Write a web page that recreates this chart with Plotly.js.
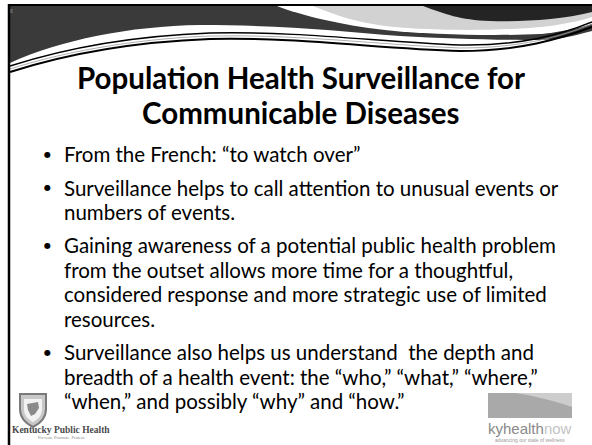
<!DOCTYPE html>
<html>
<head>
<meta charset="utf-8">
<script src="https://cdn.plot.ly/plotly-3.0.1.min.js"></script>
<style>
  html, body { margin: 0; padding: 0; background: #ffffff; }
  #slide { width: 592px; height: 445px; }
</style>
</head>
<body>
<div id="slide"></div>
<script>
// ---- content ----
const slideNumber = "8";
const titleLines = ["Population Health Surveillance for", "Communicable Diseases"];
const bullet1 = ["From the French: \u201cto watch over\u201d"];
const bullet2 = ["Surveillance helps to call attention to unusual events or", "numbers of events."];
const bullet3 = ["Gaining awareness of a potential public health problem",
                 "from the outset allows more time for a thoughtful,",
                 "considered response and more strategic use of limited",
                 "resources."];
const bullet4 = ["Surveillance also helps us understand\u00a0 the depth and",
                 "breadth of a health event: the \u201cwho,\u201d \u201cwhat,\u201d \u201cwhere,\u201d",
                 "\u201cwhen,\u201d and possibly \u201cwhy\u201d and \u201chow.\u201d"];
const bullets = [bullet1, bullet2, bullet3, bullet4];
const logoLeftName = "Kentucky Public Health";
const logoLeftTag = "Prevent. Promote. Protect.";
const logoRightParts = ["kyhealth", "now"];
const logoRightTag = "advancing our state of wellness";

// ---- layout constants ----
const W = 592, H = 445;
const bodyFont = "Lato, 'Noto Sans', sans-serif";
const titleY0 = 77, titleStep = 35, titleX = 301;
const bodyY0 = 154, lineStep = 24.4, paraStep = 33.5;
const bulletX = 47, textX = 62;

const annotations = [];
function txt(x, y, text, opts) {
  annotations.push(Object.assign({
    x: x, y: y, xref: 'x', yref: 'y', text: text, showarrow: false,
    xanchor: 'left', yanchor: 'middle',
    font: { family: bodyFont, size: 20.5, color: '#000000' }
  }, opts || {}));
}

titleLines.forEach((t, i) => {
  txt(titleX, titleY0 + i * titleStep, '<b>' + t + '</b>', {
    xanchor: 'center', font: { family: bodyFont, size: 29.5, color: '#000000' }
  });
});

let y = bodyY0;
bullets.forEach((lines, bi) => {
  if (bi > 0) y += paraStep;
  txt(bulletX, y, '\u25CF', { xanchor: 'center', font: { family: "'DejaVu Sans', sans-serif", size: 8, color: '#000' } });
  lines.forEach((ln, li) => {
    if (li > 0) y += lineStep;
    txt(textX, y, ln);
  });
});

txt(11, 11, slideNumber, { xanchor: 'center', font: { family: bodyFont, size: 5, color: '#888' } });
txt(61, 430, '<b>' + logoLeftName + '</b>', { xanchor: 'center', font: { family: "'Liberation Serif', serif", size: 9.5, color: '#4a4a4a' } });
txt(61, 437.5, logoLeftTag, { xanchor: 'center', font: { family: "'Liberation Serif', serif", size: 4.5, color: '#888' } });
txt(530, 428, logoRightParts[0] + '<span style="color:#c4c4c4">' + logoRightParts[1] + '</span>',
    { xanchor: 'center', font: { family: "'Liberation Sans', Arial, sans-serif", size: 15, color: '#8a8a8a' } });
txt(530, 440, logoRightTag, { xanchor: 'center', font: { family: "'Liberation Sans', sans-serif", size: 5, color: '#9a9a9a' } });

// ---- header decoration as an SVG background image (pixel coordinates) ----
const headerSvg =
  '<svg xmlns="http://www.w3.org/2000/svg" width="592" height="445" viewBox="0 0 592 445">' +
  '<path d="M 10 6 L 592 6 L 592 31 C 570 37 555 40 540 40 C 500 40 450 39 400 36 C 340 31 280 25 200 25 C 130 26 60 40 10 63 Z" fill="#3a3a3a"/>' +
  '<path d="M 277 6 L 592 6 L 592 24 C 580 28 560 32 540 34 C 500 36 430 35 385 30 C 340 25 300 15 277 6 Z" fill="#ffffff"/>' +
  '<path d="M 313 6 L 592 6 L 592 17 C 580 21 560 25 540 27 C 500 31 430 31 385 26 C 355 22 335 15 313 6 Z" fill="#d2d2d2"/>' +
  '<path d="M 423 6 L 592 6 L 592 12 C 560 20 520 22 490 21 C 460 20 445 14 423 6 Z" fill="#242424"/>' +
  '<path d="M 10 66 C 60 50 130 36 210 33 C 300 31 380 42 460 45 C 520 46 560 35 592 22" fill="none" stroke="#000" stroke-width="1.4"/>' +
  '<path d="M 10 69 C 60 53 130 39 210 36 C 300 34 380 45 460 48 C 520 48 560 37 592 24" fill="none" stroke="#9a9a9a" stroke-width="0.8"/>' +
  '<path d="M 10 72 C 60 56 130 42 210 39 C 300 37 380 49 460 51 C 520 51 560 39 592 27" fill="none" stroke="#000" stroke-width="2"/>' +
  '</svg>';

function path(d, fill, line) {
  return {
    type: 'path', xref: 'x', yref: 'y', path: d, layer: 'above',
    fillcolor: fill || 'rgba(0,0,0,0)',
    line: line || { width: 0, color: 'rgba(0,0,0,0)' }
  };
}
const shapes = [
  // slide borders
  { type: 'line', xref: 'x', yref: 'y', x0: 9, x1: 592, y0: 5, y1: 5, line: { color: '#000', width: 2 } },
  { type: 'line', xref: 'x', yref: 'y', x0: 9, x1: 9, y0: 4, y1: 445, line: { color: '#000', width: 2.5 } },
  // Kentucky Public Health shield
  path('M 20 394 L 46 394 L 46 409 C 46 419 39 424 33 427 C 27 424 20 419 20 409 Z', '#c8c8c8', { color: '#7a7a7a', width: 2 }),
  path('M 24 399 L 42 399 L 42 409 C 42 416 37 420 33 422 C 29 420 24 416 24 409 Z', '#f2f2f2'),
  path('M 27 404 L 38 402 L 39 408 L 35 414 L 31 416 L 28 410 Z', '#8a8a8a'),
  // kyhealthnow box
  path('M 488 393 L 572 393 L 572 418 L 488 418 Z', '#a9a9a9'),
  path('M 515 393 L 572 393 L 572 407 C 555 401 535 396 515 393 Z', '#cdcdcd')
];

const layout = {
  width: W, height: H,
  margin: { l: 0, r: 0, t: 0, b: 0, pad: 0 },
  paper_bgcolor: '#ffffff', plot_bgcolor: '#ffffff',
  showlegend: false,
  xaxis: { range: [0, W], visible: false, fixedrange: true },
  yaxis: { range: [H, 0], visible: false, fixedrange: true },
  images: [{
    source: 'data:image/svg+xml;charset=utf-8,' + encodeURIComponent(headerSvg),
    xref: 'paper', yref: 'paper', x: 0, y: 1, sizex: 1, sizey: 1,
    xanchor: 'left', yanchor: 'top', sizing: 'stretch', layer: 'above'
  }],
  shapes: shapes,
  annotations: annotations
};
Plotly.newPlot('slide', [{ x: [], y: [], type: 'scatter', hoverinfo: 'skip' }], layout,
  { staticPlot: true, displayModeBar: false });
</script>
</body>
</html>
